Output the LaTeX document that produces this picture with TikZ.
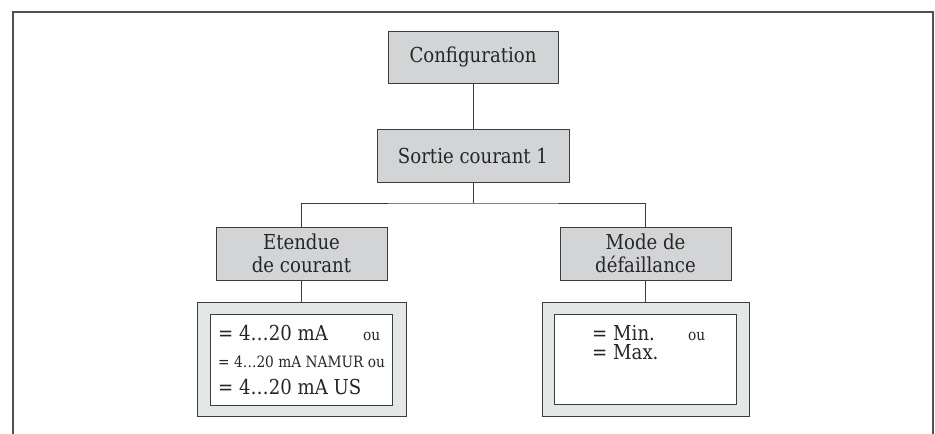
\documentclass[tikz,border=0pt]{standalone}
\usepackage{fontspec}
\setmainfont{DejaVu Serif}[FakeStretch=0.88]
\definecolor{boxgray}{HTML}{D3D4D6}
\definecolor{outergray}{HTML}{E3E7E7}
\definecolor{linegray}{HTML}{3C3C3C}
\newcommand{\bigfs}{\fontsize{20.6}{24}\selectfont}
\newcommand{\smallfs}{\fontsize{15.6}{17}\selectfont}
\begin{document}
\begin{tikzpicture}[x=1pt,y=-1pt,
  labelbox/.style={draw=linegray,fill=boxgray,line width=1pt,inner sep=0pt,
    minimum width=171pt,minimum height=53pt,align=center,font=\bigfs,text=black!85},
  outerbox/.style={draw=linegray,fill=outergray,line width=1pt,inner sep=0pt},
  innerbox/.style={draw=linegray,fill=white,line width=1pt,inner sep=0pt},
  conn/.style={draw=linegray,line width=1pt},
  txt/.style={anchor=base west,inner sep=0pt,text=black!85}]
\useasboundingbox (0,0) rectangle (935,434);
% frame
\draw[linegray!90,line width=2pt] (13,434) -- (13,12) -- (933,12) -- (933,434);
% label boxes
\node[labelbox,minimum width=170pt,minimum height=52pt] (cfg) at (473,57) {Configuration};
\node[labelbox,minimum width=192pt] (sortie) at (473,155.5) {Sortie courant 1};
\node[labelbox] (et) at (301.5,253.5) {Etendue\\[-1pt]de courant};
\node[labelbox] (mode) at (645.5,253.5) {Mode de\\[-1pt]défaillance};
\coordinate (j) at (473,203);
\draw[conn] (cfg.south) -- (sortie.north);
\draw[conn] (sortie.south) -- (j);
\draw[conn] (et.north) |- (j) -| (mode.north);
% option boxes
\node[outerbox,minimum width=209pt,minimum height=114pt] (eo) at (301.5,359) {};
\node[innerbox,minimum width=182pt,minimum height=91pt] (ei) at (301,359.5) {};
\node[outerbox,minimum width=207pt,minimum height=114pt] (mo) at (645.5,359) {};
\node[innerbox,minimum width=182pt,minimum height=90pt] (mi) at (645,359) {};
\draw[conn] (et.south) -- (eo.north);
\draw[conn] (mode.south) -- (mo.north);
% texts
\node[txt,font=\bigfs] (e1) at (218,340) {= 4…20 mA};
\node[txt,font=\smallfs] (e1o) at (363,340) {ou};
\node[txt,font=\smallfs] (e2) at (218,367) {= 4…20 mA NAMUR ou};
\node[txt,font=\bigfs] (e3) at (218,394) {= 4…20 mA US};
\node[txt,font=\bigfs] (m1) at (592,340) {= Min.};
\node[txt,font=\smallfs] (m1o) at (688,340) {ou};
\node[txt,font=\bigfs] (m2) at (592,359) {= Max.};
\end{tikzpicture}
\end{document}
